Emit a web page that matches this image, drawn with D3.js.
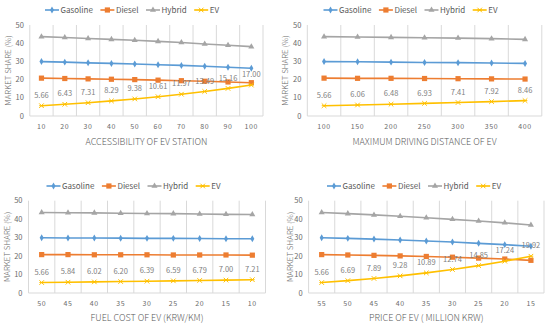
<!DOCTYPE html>
<html lang="en">
<head>
<meta charset="utf-8">
<title>EV market share</title>
<style>
  body { margin: 0; background: #fff; }
  svg { display: block; font-family: "Noto Sans CJK KR", "Noto Sans", sans-serif; }
  .grid { stroke: #d9d9d9; stroke-width: 1px; }
  .tick { fill: #6b6b6b; font-size: 7px; }
  .ttl { fill: #595959; font-size: 9px; font-weight: 300; }
  .ytl { fill: #6b6b6b; font-size: 7.5px; }
  .ytt { fill: #6b6b6b; font-size: 8px; font-weight: 300; }
  .lbl { fill: #7f7f7f; font-size: 7.5px; }
  .leg { fill: #595959; font-size: 8px; }
</style>
</head>
<body>
<svg width="550" height="327"></svg>
<script src="https://d3js.org/d3.v7.min.js"></script>
<script>
var seriesNames = ["Gasoline", "Diesel", "Hybrid", "EV"];
var seriesColors = ["#5b9bd5", "#ed7d31", "#a5a5a5", "#ffc000"];

// panel 1: accessibility of EV station
var stationX = ["10", "20", "30", "40", "50", "60", "70", "80", "90", "100"];
var stationGasoline = [29.9, 29.6, 29.2, 28.9, 28.6, 28.2, 27.8, 27.3, 26.8, 26.2];
var stationDiesel = [20.8, 20.6, 20.4, 20.2, 20.0, 19.7, 19.4, 19.1, 18.7, 18.3];
var stationHybrid = [43.6, 43.1, 42.6, 42.1, 41.6, 41.0, 40.4, 39.6, 38.9, 38.1];
var stationEV = [5.66, 6.43, 7.31, 8.29, 9.38, 10.61, 11.97, 13.49, 15.16, 17.00];

// panel 2: maximum driving distance
var distanceX = ["100", "150", "200", "250", "300", "350", "400"];
var distanceGasoline = [29.9, 29.8, 29.6, 29.4, 29.3, 29.1, 28.9];
var distanceDiesel = [20.8, 20.7, 20.7, 20.6, 20.5, 20.4, 20.3];
var distanceHybrid = [43.6, 43.4, 43.2, 43.0, 42.8, 42.5, 42.1];
var distanceEV = [5.66, 6.06, 6.48, 6.93, 7.41, 7.92, 8.46];

// panel 3: fuel cost
var fuelX = ["50", "45", "40", "35", "30", "25", "20", "15", "10"];
var fuelGasoline = [29.9, 29.8, 29.8, 29.7, 29.6, 29.6, 29.5, 29.4, 29.4];
var fuelDiesel = [20.8, 20.8, 20.7, 20.7, 20.7, 20.6, 20.6, 20.6, 20.5];
var fuelHybrid = [43.6, 43.5, 43.4, 43.2, 43.1, 43.0, 42.8, 42.6, 42.5];
var fuelEV = [5.66, 5.84, 6.02, 6.20, 6.39, 6.59, 6.79, 7.00, 7.21];

// panel 4: price of EV
var priceX = ["55", "50", "45", "40", "35", "30", "25", "20", "15"];
var priceGasoline = [29.9, 29.6, 29.2, 28.7, 28.2, 27.6, 26.9, 26.2, 25.3];
var priceDiesel = [20.8, 20.6, 20.4, 20.1, 19.8, 19.4, 18.9, 18.4, 17.7];
var priceHybrid = [43.6, 43.0, 42.3, 41.6, 40.8, 39.9, 39.0, 38.0, 36.8];
var priceEV = [5.66, 6.69, 7.89, 9.28, 10.89, 12.74, 14.85, 17.24, 19.92];

var yTicks = [0, 10, 20, 30, 40, 50];
var yTitle = "MARKET SHARE (%)";

var panels = [
  { x: stationX, s: [stationGasoline, stationDiesel, stationHybrid, stationEV],
    title: "ACCESSIBILITY OF EV STATION",
    left: 29.8, right: 263, top: 25, bottom: 116, legY: 10, legCx: 132, yTx: 8.3, tickY: 126.5, titleY: 142 },
  { x: distanceX, s: [distanceGasoline, distanceDiesel, distanceHybrid, distanceEV],
    title: "MAXIMUM DRIVING DISTANCE OF EV",
    left: 307.3, right: 541.8, top: 25, bottom: 116, legY: 10, legCx: 410.5, yTx: 285, tickY: 126.5, titleY: 142 },
  { x: fuelX, s: [fuelGasoline, fuelDiesel, fuelHybrid, fuelEV],
    title: "FUEL COST OF EV (KRW/KM)",
    left: 28.5, right: 265.5, top: 200.7, bottom: 293, legY: 186, legCx: 133.5, yTx: 7.3, tickY: 304, titleY: 318 },
  { x: priceX, s: [priceGasoline, priceDiesel, priceHybrid, priceEV],
    title: "PRICE OF EV ( MILLION KRW)",
    left: 308.6, right: 544, top: 200.7, bottom: 293, legY: 186, legCx: 414, yTx: 290, tickY: 304, titleY: 318 }
];

var svg = d3.select("svg");

function marker(g, i, cx, cy, col) {
  if (i == 0) {
    g.append("path").attr("d", d3.symbol().type(d3.symbolDiamond).size(14)())
      .attr("transform", "translate(" + cx + "," + cy + ")").attr("fill", col);
  } else if (i == 1) {
    g.append("rect").attr("x", cx - 2.6).attr("y", cy - 2.6).attr("width", 5.2).attr("height", 5.2).attr("fill", col);
  } else if (i == 2) {
    g.append("path").attr("d", d3.symbol().type(d3.symbolTriangle).size(16)())
      .attr("transform", "translate(" + cx + "," + cy + ")").attr("fill", col);
  } else {
    g.append("path").attr("d", "M-2.3,-2.3L2.3,2.3M-2.3,2.3L2.3,-2.3M-2.3,0L2.3,0")
      .attr("transform", "translate(" + cx + "," + cy + ")")
      .attr("stroke", col).attr("stroke-width", 1).attr("fill", "none");
  }
}

panels.forEach(function(p) {
  var g = svg.append("g");
  var x = d3.scaleBand().domain(p.x).range([p.left, p.right]);
  var y = d3.scaleLinear().domain([0, 50]).range([p.bottom, p.top]);
  var bw = x.bandwidth();
  var cx = function(c) { return x(c) + bw / 2; };

  // vertical gridlines at category edges
  var edges = p.x.map(function(c) { return x(c); }).concat([x(p.x[p.x.length - 1]) + bw]);
  g.selectAll("line.grid").data(edges).enter().append("line")
    .attr("class", "grid")
    .attr("x1", function(d) { return d; }).attr("x2", function(d) { return d; })
    .attr("y1", y(50)).attr("y2", y(0));
  g.append("line").attr("class", "grid")
    .attr("x1", p.left).attr("x2", p.right).attr("y1", y(0)).attr("y2", y(0));

  // y tick labels
  g.selectAll("text.ytl").data(yTicks).enter().append("text")
    .attr("class", "ytl").attr("text-anchor", "end")
    .attr("x", p.left - 6).attr("y", function(d) { return y(d); }).attr("dy", "0.35em")
    .text(function(d) { return d; });

  // x tick labels
  g.selectAll("text.tick").data(p.x).enter().append("text")
    .attr("class", "tick").attr("text-anchor", "middle").style("letter-spacing", "0.6px")
    .attr("x", cx).attr("y", p.tickY).attr("dy", "0.35em")
    .text(function(d) { return d; });

  g.append("text").attr("class", "ttl").attr("text-anchor", "middle")
    .attr("x", (p.left + p.right) / 2).attr("y", p.titleY).attr("dy", "0.35em")
    .text(p.title);

  g.append("text").attr("class", "ytt").attr("text-anchor", "middle")
    .attr("transform", "translate(" + p.yTx + "," + (p.top + p.bottom) / 2 + ") rotate(-90)")
    .attr("dy", "0.35em")
    .text(yTitle);

  // lines + markers
  var line = d3.line().x(function(d, i) { return cx(p.x[i]); }).y(function(d) { return y(d); });
  p.s.forEach(function(vals, si) {
    g.append("path").attr("d", line(vals)).attr("fill", "none")
      .attr("stroke", seriesColors[si]).attr("stroke-width", 1.6);
    vals.forEach(function(v, i) { marker(g, si, cx(p.x[i]), y(v), seriesColors[si]); });
  });

  // EV data labels
  var ev = p.s[3];
  g.selectAll("text.lbl").data(ev).enter().append("text")
    .attr("class", "lbl").attr("text-anchor", "middle")
    .attr("x", function(d, i) { return cx(p.x[i]); })
    .attr("y", function(d) { return y(d) - 10.5; }).attr("dy", "0.35em")
    .text(function(d) { return d.toFixed(2); });

  // legend
  var leg = g.append("g");
  var pos = 0;
  seriesNames.forEach(function(n, si) {
    var it = leg.append("g").attr("transform", "translate(" + pos + ",0)");
    it.append("line").attr("x1", 0).attr("x2", 14).attr("y1", 0).attr("y2", 0)
      .attr("stroke", seriesColors[si]).attr("stroke-width", 1.6);
    marker(it, si, 7, 0, seriesColors[si]);
    var t = it.append("text").attr("class", "leg").attr("x", 15.5).attr("dy", "0.35em").text(n);
    pos += 15.5 + t.node().getComputedTextLength() + 7.5;
  });
  pos -= 7.5;
  leg.attr("transform", "translate(" + (p.legCx - pos / 2) + "," + p.legY + ")");
});
</script>
</body>
</html>
